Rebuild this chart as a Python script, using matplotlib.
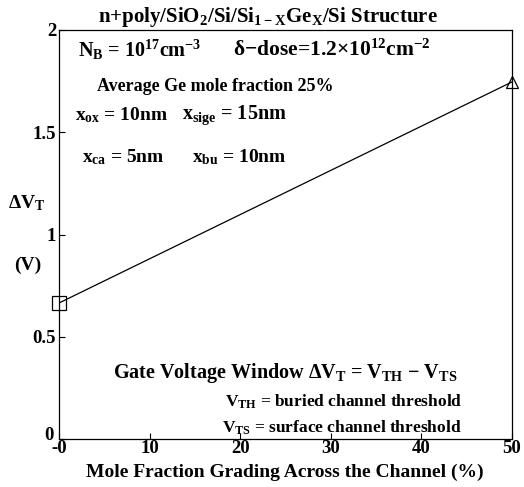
import numpy as np
import matplotlib
matplotlib.use("Agg")
import matplotlib.pyplot as plt
from matplotlib.transforms import ScaledTranslation

# data
grading = [0, 50]            # mole fraction grading (%)
delta_vt = [0.665, 1.746]    # gate voltage window (V)
markers = ['s', '^']

xticks = [0, 10, 20, 30, 40, 50]
xticklabels = ['-0', '10', '20', '30', '40', '50']
yticks = [0, 0.5, 1, 1.5, 2]
yticklabels = ['0', '0.5', '1', '1.5', '2']

plt.rcParams['font.family'] = ['Liberation Serif', 'DejaVu Serif']
plt.rcParams['font.weight'] = 'bold'
plt.rcParams['mathtext.fontset'] = 'custom'
plt.rcParams['mathtext.rm'] = 'Liberation Serif:bold'
plt.rcParams['mathtext.it'] = 'Liberation Serif:bold'
plt.rcParams['mathtext.bf'] = 'Liberation Serif:bold'
plt.rcParams['mathtext.sf'] = 'Liberation Serif:bold'

W, H = 524, 487
fig = plt.figure(figsize=(W / 100, H / 100), dpi=100)
ax = fig.add_axes([59 / W, 1 - 439 / H, (512 - 59) / W, (439 - 30) / H])


def fx(px):
    return px / W


def fy(py):
    return 1 - py / H


ax.plot(grading, delta_vt, color='black', linewidth=0.9)
for xv, yv, m in zip(grading, delta_vt, markers):
    ax.plot(xv, yv, marker=m, markersize=10 if m == 's' else 9, markerfacecolor='none',
            markeredgecolor='black', markeredgewidth=0.9, linestyle='none', clip_on=False)

ax.set_xlim(0, 50)
ax.set_ylim(0, 2)
ax.set_xticks(xticks)
ax.set_xticklabels(xticklabels)
ax.set_yticks(yticks)
ax.set_yticklabels(yticklabels)
ax.tick_params(direction='in', length=4, width=0.8, labelsize=13.5, pad=2)
ax.tick_params(axis='x', pad=1)
for s in ax.spines.values():
    s.set_linewidth(0.9)
# nudge the "0" on the y axis up and left, clear of the "-0" below it
lab0 = ax.get_yticklabels()[0]
lab0.set_transform(lab0.get_transform() + ScaledTranslation(-3 / 100, 6 / 100, fig.dpi_scale_trans))

fig.text(fx(268), fy(17), r'n+poly/SiO$_2$/Si/Si$_{1-X}$Ge$_X$/Si Structure',
         ha='center', va='center', fontsize=15)
fig.text(fx(78), fy(50), r'N$_B$ = 10$^{17}$cm$^{-3}$', ha='left', va='center', fontsize=14.5)
fig.text(fx(233), fy(50), r'δ−dose=1.2×10$^{12}$cm$^{-2}$', ha='left', va='center', fontsize=15.5)
fig.text(fx(97), fy(86), 'Average Ge mole fraction 25%', ha='left', va='center', fontsize=13)
fig.text(fx(75), fy(115), r'x$_{ox}$ = 10nm', ha='left', va='center', fontsize=14)
fig.text(fx(182), fy(115), r'x$_{sige}$ = 15nm', ha='left', va='center', fontsize=14.5)
fig.text(fx(82), fy(157), r'x$_{ca}$ = 5nm', ha='left', va='center', fontsize=14)
fig.text(fx(192), fy(157), r'x$_{bu}$ = 10nm', ha='left', va='center', fontsize=14)

fig.text(fx(27), fy(203), r'ΔV$_T$', ha='center', va='center', fontsize=14)
fig.text(fx(28), fy(265), '(V)', ha='center', va='center', fontsize=14)

fig.text(fx(113), fy(373), r'Gate Voltage Window ΔV$_T$ = V$_{TH}$ − V$_{TS}$',
         ha='left', va='center', fontsize=14.5)
fig.text(fx(462), fy(402), r'V$_{TH}$ = buried channel threshold', ha='right', va='center', fontsize=12.5)
fig.text(fx(462), fy(428), r'V$_{TS}$ = surface channel threshold', ha='right', va='center', fontsize=12.5)

fig.text(fx(285), fy(472), 'Mole Fraction Grading Across the Channel (%)',
         ha='center', va='center', fontsize=14)

plt.savefig("out.png", dpi=100)
